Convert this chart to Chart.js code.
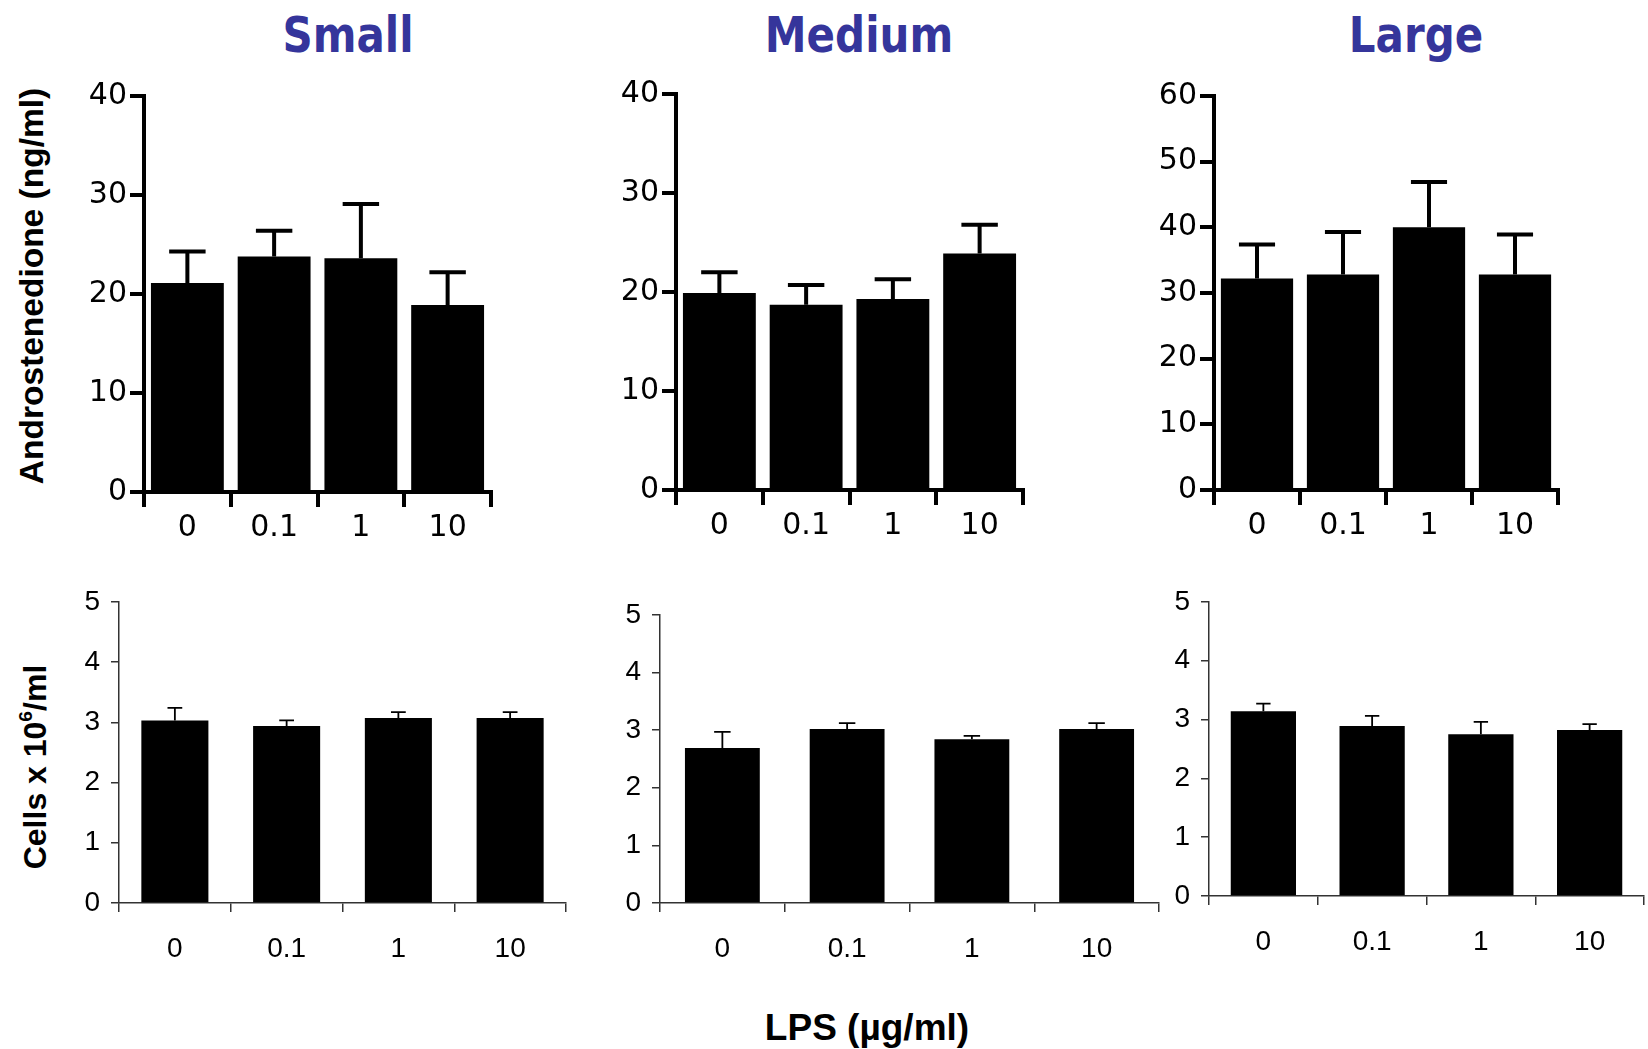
<!DOCTYPE html>
<html>
<head>
<meta charset="utf-8">
<script src="https://cdn.jsdelivr.net/npm/chart.js@4.4.1/dist/chart.umd.min.js"></script>
<style>
  body { margin: 0; background: #fff; }
  #page { position: relative; width: 1648px; height: 1049px; overflow: hidden; background: #fff; }
  canvas { position: absolute; }
  .title {
    position: absolute; font-family: "DejaVu Sans", sans-serif; font-weight: bold;
    font-size: 42px; line-height: 1; color: #35359b; white-space: nowrap;
    transform: translateX(-50%) scaleY(1.2); transform-origin: 50% 100%;
  }
  .axis-title {
    position: absolute; font-family: "Liberation Sans", Arial, sans-serif; font-weight: bold;
    color: #000; white-space: nowrap; line-height: 1;
  }
  .vertical { transform: translate(-50%, -50%) rotate(-90deg); }
  sup { font-size: 60%; vertical-align: 0.75em; line-height: 0; }
</style>
</head>
<body>
<div id="page">
  <div class="title" style="left:348px; top:18px;">Small</div>
  <div class="title" style="left:859px; top:18px;">Medium</div>
  <div class="title" style="left:1416px; top:18px;">Large</div>

  <div class="axis-title vertical" style="left:32px; top:286px; font-size:33.5px;">Androstenedione (ng/ml)</div>
  <div class="axis-title vertical" style="left:35px; top:767px; font-size:32px;">Cells x 10<sup>6</sup>/ml</div>
  <div class="axis-title" style="left:867px; top:1027px; font-size:37px; transform:translate(-50%,-50%);">LPS (µg/ml)</div>
</div>

<script>
// LPS doses (x categories)
const categories = ["0", "0.1", "1", "10"];

// androstenedione, ng/ml (mean and upper error)
const smallAndro = [21.1, 23.8, 23.6, 18.9];
const smallAndroErr = [3.2, 2.6, 5.5, 3.3];
const mediumAndro = [19.9, 18.7, 19.3, 23.9];
const mediumAndroErr = [2.1, 2.0, 2.0, 2.9];
const largeAndro = [32.2, 32.8, 40.0, 32.8];
const largeAndroErr = [5.2, 6.5, 6.9, 6.1];

// cell counts, x10^6/ml
const smallCells = [3.03, 2.94, 3.07, 3.07];
const smallCellsErr = [0.21, 0.09, 0.10, 0.10];
const mediumCells = [2.69, 3.02, 2.84, 3.02];
const mediumCellsErr = [0.28, 0.10, 0.06, 0.10];
const largeCells = [3.14, 2.89, 2.75, 2.82];
const largeCellsErr = [0.13, 0.17, 0.21, 0.10];

// y axis ranges
const andro40Max = 40, andro40Step = 10;
const andro60Max = 60, andro60Step = 10;
const cellsMax = 5, cellsStep = 1;

const page = document.getElementById("page");

// upward whisker with a cap on each bar
const errorBars = {
  id: "errorBars",
  afterDatasetsDraw(chart, args, opts) {
    const meta = chart.getDatasetMeta(0);
    const yScale = chart.scales.y;
    const ctx = chart.ctx;
    ctx.save();
    ctx.strokeStyle = "#000";
    ctx.lineWidth = opts.lineWidth;
    ctx.lineCap = "butt";
    meta.data.forEach((bar, i) => {
      const v = chart.data.datasets[0].data[i];
      const top = yScale.getPixelForValue(v + opts.errors[i]);
      const half = bar.width * opts.cap / 2;
      ctx.beginPath();
      ctx.moveTo(bar.x, bar.y);
      ctx.lineTo(bar.x, top);
      ctx.moveTo(bar.x - half, top);
      ctx.lineTo(bar.x + half, top);
      ctx.stroke();
    });
    ctx.restore();
  }
};

// GraphPad-looking upper row, Excel-looking lower row
const prismStyle = {
  yWidth: 80, xHeight: 62, padTop: 22,
  font: { family: "DejaVu Sans", size: 30 },
  line: 4, yTick: 14, xTick: 15, yPad: 3, xPad: 3,
  barPct: 0.84, errWidth: 4, cap: 0.5, axisColor: "#000"
};
const excelStyle = {
  yWidth: 60, xHeight: 76, padTop: 20,
  font: { family: "Liberation Sans", size: 28 },
  line: 1.5, yTick: 8, xTick: 9, yPad: 11, xPad: 20,
  barPct: 0.6, errWidth: 1.8, cap: 0.22, axisColor: "#333"
};

function makePanel(p) {
  const s = p.style;
  const padRight = 3;
  const canvas = document.createElement("canvas");
  canvas.width = s.yWidth + (p.right - p.x) + padRight;
  canvas.height = s.padTop + (p.bottom - p.top) + s.xHeight;
  canvas.style.left = (p.x - s.yWidth) + "px";
  canvas.style.top = (p.top - s.padTop) + "px";
  page.appendChild(canvas);

  new Chart(canvas, {
    type: "bar",
    data: {
      labels: categories,
      datasets: [{
        data: p.values,
        backgroundColor: "#000",
        borderWidth: 0,
        categoryPercentage: s.barPct,
        barPercentage: 1
      }]
    },
    options: {
      responsive: false,
      animation: false,
      layout: { padding: { top: s.padTop, right: padRight, left: 0, bottom: 0 } },
      plugins: {
        legend: { display: false },
        tooltip: { enabled: false },
        errorBars: { errors: p.errors, lineWidth: s.errWidth, cap: s.cap }
      },
      scales: {
        x: {
          offset: true,
          grid: {
            offset: true, drawOnChartArea: false, drawTicks: true,
            tickLength: s.xTick, lineWidth: s.line, color: s.axisColor
          },
          border: { display: true, width: s.line, color: s.axisColor },
          ticks: { color: "#000", font: s.font, padding: s.xPad, maxRotation: 0 },
          afterFit: (scale) => { scale.height = s.xHeight; }
        },
        y: {
          min: 0, max: p.max,
          grid: {
            drawOnChartArea: false, drawTicks: true,
            tickLength: s.yTick, lineWidth: s.line, color: s.axisColor
          },
          border: { display: true, width: s.line, color: s.axisColor },
          ticks: { stepSize: p.step, color: "#000", font: s.font, padding: s.yPad },
          afterFit: (scale) => { scale.width = s.yWidth; }
        }
      }
    },
    plugins: [errorBars]
  });
}

makePanel({ style: prismStyle, x: 144, top: 96, bottom: 492, right: 491,
  values: smallAndro, errors: smallAndroErr, max: andro40Max, step: andro40Step });
makePanel({ style: prismStyle, x: 676, top: 94, bottom: 490, right: 1023,
  values: mediumAndro, errors: mediumAndroErr, max: andro40Max, step: andro40Step });
makePanel({ style: prismStyle, x: 1214, top: 96, bottom: 490, right: 1558,
  values: largeAndro, errors: largeAndroErr, max: andro60Max, step: andro60Step });

makePanel({ style: excelStyle, x: 119, top: 594, bottom: 903, right: 566,
  values: smallCells, errors: smallCellsErr, max: cellsMax, step: cellsStep });
makePanel({ style: excelStyle, x: 660, top: 607, bottom: 903, right: 1159,
  values: mediumCells, errors: mediumCellsErr, max: cellsMax, step: cellsStep });
makePanel({ style: excelStyle, x: 1209, top: 594, bottom: 896, right: 1644,
  values: largeCells, errors: largeCellsErr, max: cellsMax, step: cellsStep });
</script>
</body>
</html>
